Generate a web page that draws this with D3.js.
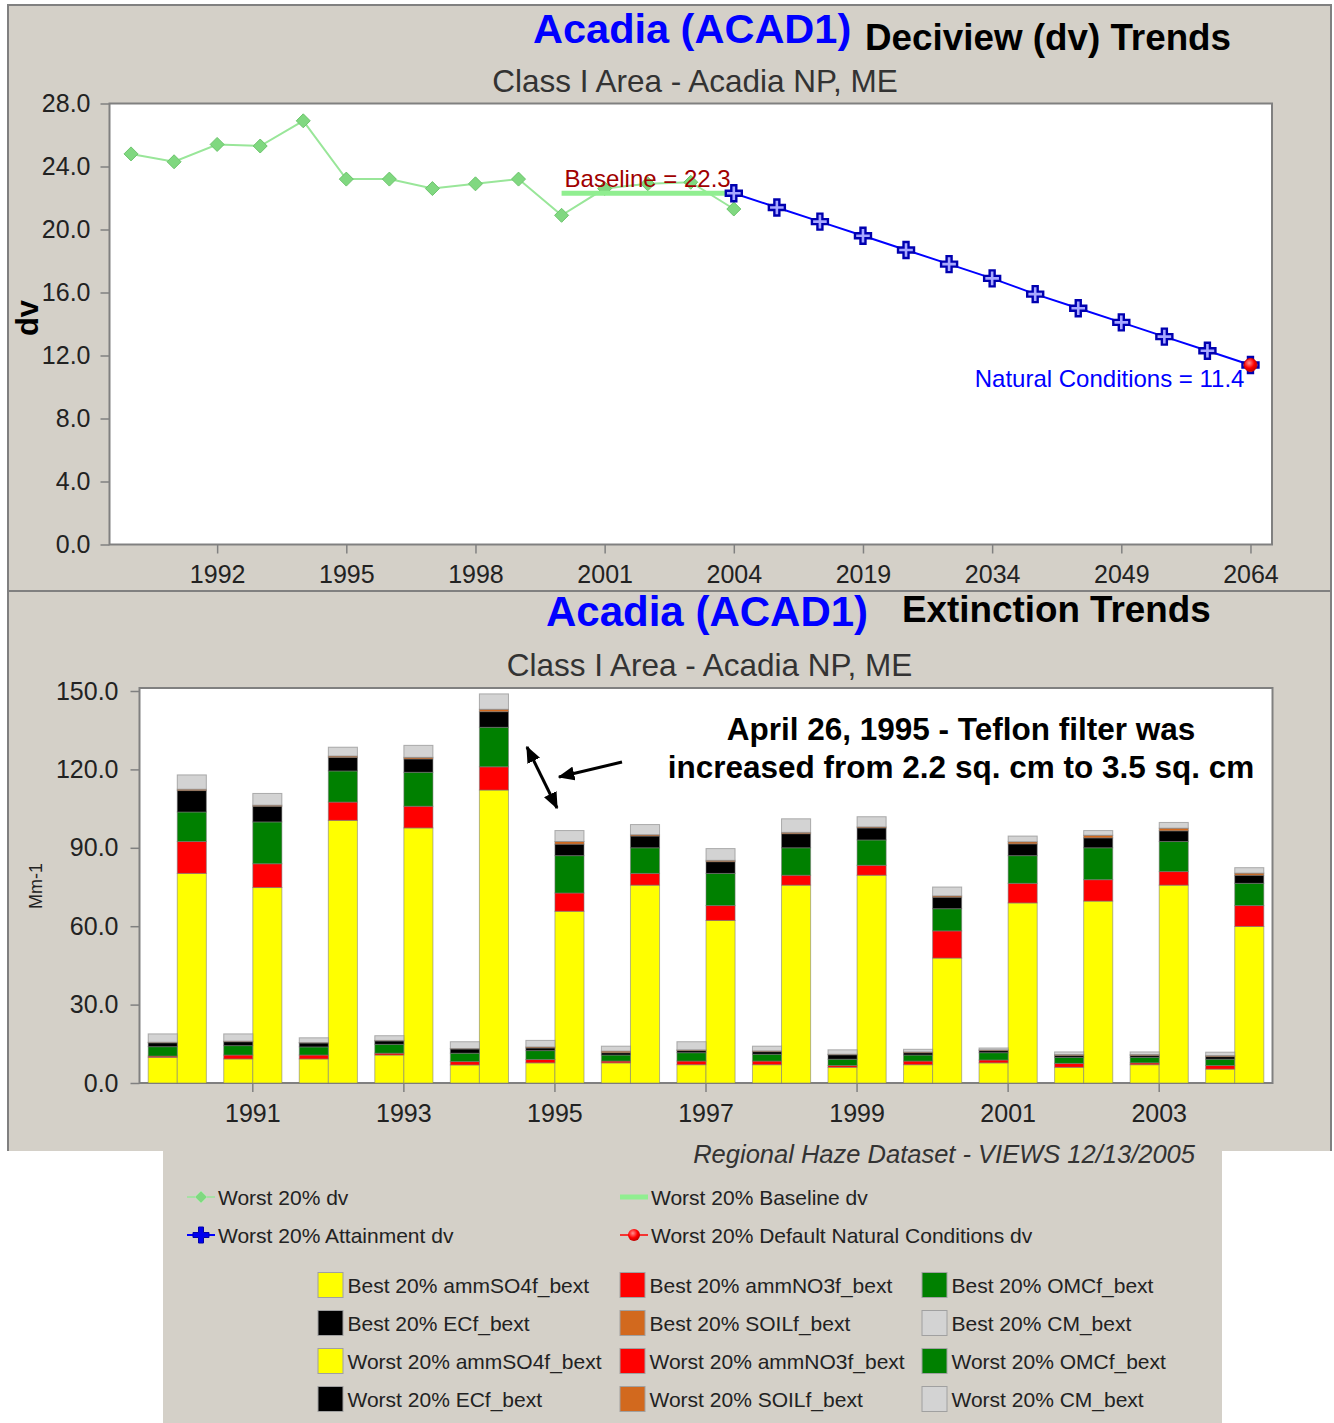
<!DOCTYPE html>
<html>
<head>
<meta charset="utf-8">
<script src="https://cdn.jsdelivr.net/npm/d3@7"></script>
<style>
  body { margin: 0; background: #ffffff; }
  svg { display: block; }
  text { font-family: "Liberation Sans", Arial, sans-serif; }
</style>
</head>
<body>
<svg id="chart" width="1334" height="1423"></svg>
<script>
// ---------- Deciview (dv) trend data ----------
const dvCategories = ["1990","1991","1992","1993","1994","1995","1996","1997","1998","1999",
  "2000","2001","2002","2003","2004","2009","2014","2019","2024","2029","2034","2039",
  "2044","2049","2054","2059","2064"];
const worstDvYears = ["1990","1991","1992","1993","1994","1995","1996","1997","1998","1999",
  "2000","2001","2002","2003","2004"];
const worstDv = [24.8, 24.3, 25.4, 25.3, 26.9, 23.2, 23.2, 22.6, 22.9, 23.2, 20.9, 22.6, 22.9, 23.0, 21.3];
const baselineYears = ["2000", "2004"];
const baselineDv = 22.3;
const attainmentYears = ["2004","2009","2014","2019","2024","2029","2034","2039","2044","2049","2054","2059","2064"];
const attainmentDv = [22.3, 21.4, 20.5, 19.6, 18.7, 17.8, 16.9, 15.9, 15.0, 14.1, 13.2, 12.3, 11.4];
const naturalYear = "2064";
const naturalDv = 11.4;
const dvTickLabels = ["1992","1995","1998","2001","2004","2019","2034","2049","2064"];
const dvAxisValues = [0, 4, 8, 12, 16, 20, 24, 28];

// ---------- Extinction trend data (Mm-1) ----------
const extYears = ["1990","1991","1992","1993","1994","1995","1996","1997","1998","1999",
  "2000","2001","2002","2003","2004"];
const extTickLabels = ["1991","1993","1995","1997","1999","2001","2003"];
const extAxisValues = [0, 30, 60, 90, 120, 150];
const speciesKeys = ["ammSO4f_bext", "ammNO3f_bext", "OMCf_bext", "ECf_bext", "SOILf_bext", "CM_bext"];
const speciesColors = ["#ffff00", "#ff0000", "#008000", "#000000", "#d2691e", "#d3d3d3"];

const bestSO4  = [9.8, 9.2, 9.2, 10.7, 6.9, 7.7, 7.7, 7.0, 7.0, 6.0, 7.0, 7.7, 6.0, 7.0, 5.3];
const bestNO3  = [0.5, 1.5, 1.5, 0.7, 1.3, 1.3, 0.7, 1.4, 1.4, 0.7, 1.4, 1.1, 1.5, 0.7, 1.4];
const bestOMC  = [3.6, 3.6, 3.1, 3.4, 3.2, 3.4, 2.3, 3.2, 2.6, 2.4, 2.3, 2.8, 2.3, 2.1, 2.4];
const bestEC   = [1.5, 1.5, 1.5, 1.3, 1.6, 1.0, 0.9, 0.8, 1.0, 1.7, 0.9, 0.8, 0.7, 0.7, 1.0];
const bestSOIL = [0.2, 0.2, 0.2, 0.2, 0.2, 0.4, 0.6, 0.3, 0.3, 0.2, 0.3, 0.3, 0.4, 0.4, 0.4];
const bestCM   = [3.2, 2.8, 1.8, 1.8, 2.6, 2.5, 1.9, 3.1, 1.8, 1.7, 1.0, 0.7, 1.0, 1.0, 1.3];

const worstSO4  = [80.2, 74.8, 100.5, 97.6, 112.1, 65.7, 75.7, 62.2, 75.7, 79.5, 47.8, 68.9, 69.6, 75.7, 59.9];
const worstNO3  = [12.2, 9.1, 7.0, 8.3, 8.9, 7.0, 4.5, 5.7, 3.8, 3.8, 10.4, 7.5, 8.2, 5.2, 8.0];
const worstOMC  = [11.3, 16.0, 11.9, 13.0, 15.1, 14.3, 9.8, 12.3, 10.5, 9.7, 8.5, 10.6, 12.2, 11.5, 8.5];
const worstEC   = [8.2, 6.0, 5.2, 5.1, 6.0, 4.4, 4.5, 4.5, 5.4, 4.6, 4.4, 4.5, 3.8, 4.1, 3.1];
const worstSOIL = [0.5, 0.4, 0.5, 0.6, 0.9, 1.0, 0.5, 0.5, 0.5, 0.4, 0.5, 0.8, 1.0, 1.0, 0.8];
const worstCM   = [5.5, 4.5, 3.4, 4.6, 5.9, 4.2, 3.9, 4.5, 5.2, 3.9, 3.4, 2.2, 1.8, 2.2, 2.1];

const lineLegendLabels = ["Worst 20% dv", "Worst 20% Baseline dv",
  "Worst 20% Attainment dv", "Worst 20% Default Natural Conditions dv"];

// ---------- helpers ----------
const svg = d3.select("#chart");
const PANEL = "#d4d0c8", FRAME = "#808080", INK = "#222222";

function label(g, x, y, str, size, opts = {}) {
  return g.append("text")
    .attr("x", x).attr("y", y)
    .attr("font-size", size)
    .attr("font-weight", opts.weight || "normal")
    .attr("font-style", opts.style || "normal")
    .attr("fill", opts.fill || INK)
    .attr("text-anchor", opts.anchor || "start")
    .text(str);
}
const plusPath = (a, w) => `M${-w},${-a}H${w}V${-w}H${a}V${w}H${w}V${a}H${-w}V${w}H${-a}V${-w}H${-w}Z`;
const diamondPath = r => `M0,${-r}L${r},0L0,${r}L${-r},0Z`;

// ---------- panels ----------
svg.append("rect").attr("x", 8).attr("y", 5).attr("width", 1323).attr("height", 1146).attr("fill", PANEL);
svg.append("rect").attr("x", 163).attr("y", 1150).attr("width", 1059).attr("height", 273).attr("fill", PANEL);
svg.append("path")
  .attr("d", "M8,1151V5H1331V1151M8,591H1331")
  .attr("fill", "none").attr("stroke", FRAME).attr("stroke-width", 2);

const defs = svg.append("defs");
const grad = defs.append("radialGradient").attr("id", "ncGrad").attr("cx", "40%").attr("cy", "35%").attr("r", "65%");
grad.append("stop").attr("offset", "0%").attr("stop-color", "#ff9090");
grad.append("stop").attr("offset", "60%").attr("stop-color", "#ff0000");
grad.append("stop").attr("offset", "100%").attr("stop-color", "#c00000");
defs.append("marker").attr("id", "arrowHead")
  .attr("viewBox", "0 0 12 10").attr("refX", 11).attr("refY", 5)
  .attr("markerWidth", 5.6).attr("markerHeight", 4.7)
  .attr("orient", "auto-start-reverse").attr("markerUnits", "strokeWidth")
  .append("path").attr("d", "M0,0L12,5L0,10Z").attr("fill", "#000");

function styleAxis(g, size) {
  g.select(".domain").remove();
  g.selectAll(".tick line").attr("stroke", FRAME).attr("stroke-width", 1.5);
  g.selectAll(".tick text").attr("font-size", size).attr("fill", INK)
    .attr("font-family", "'Liberation Sans', Arial, sans-serif");
}

// =====================================================================
// Top chart: Deciview trends
// =====================================================================
const dvG = svg.append("g");
label(dvG, 533, 43, "Acadia (ACAD1)", 41.5, { weight: "bold", fill: "#0000ff" });
label(dvG, 865, 50, "Deciview (dv) Trends", 36.8, { weight: "bold", fill: "#000" });
label(dvG, 695, 92, "Class I Area - Acadia NP, ME", 31.5, { anchor: "middle", fill: "#333" });

const xDv = d3.scalePoint().domain(dvCategories).range([109.5, 1272]).padding(0.5);
const yDv = d3.scaleLinear().domain([0, 28]).range([544.5, 103.5]);

dvG.append("rect").attr("x", 109.5).attr("y", 103.5).attr("width", 1162.5).attr("height", 441)
  .attr("fill", "#fff").attr("stroke", FRAME).attr("stroke-width", 2);

dvG.append("g").attr("transform", "translate(0,544.5)")
  .call(d3.axisBottom(xDv).tickValues(dvTickLabels).tickSize(9).tickPadding(12))
  .call(g => styleAxis(g, 25));
dvG.append("g").attr("transform", "translate(109.5,0)")
  .call(d3.axisLeft(yDv).tickValues(dvAxisValues).tickFormat(d3.format(".1f")).tickSize(9).tickPadding(10))
  .call(g => styleAxis(g, 25));

dvG.append("text").attr("transform", "translate(38,318) rotate(-90)")
  .attr("text-anchor", "middle").attr("font-size", 31).attr("font-weight", "bold")
  .attr("fill", "#000").text("dv");

// worst 20% dv
const dvPts = worstDvYears.map((yr, i) => ({ yr, v: worstDv[i] }));
dvG.append("path").datum(dvPts)
  .attr("d", d3.line().x(d => xDv(d.yr)).y(d => yDv(d.v)))
  .attr("fill", "none").attr("stroke", "#99e699").attr("stroke-width", 2);
dvG.selectAll(".dvpt").data(dvPts).join("path").attr("class", "dvpt")
  .attr("transform", d => `translate(${xDv(d.yr)},${yDv(d.v)})`)
  .attr("d", diamondPath(7)).attr("fill", "#80d880").attr("stroke", "#6cc46c").attr("stroke-width", 1);

// baseline
dvG.append("line")
  .attr("x1", xDv(baselineYears[0])).attr("x2", xDv(baselineYears[1]))
  .attr("y1", yDv(baselineDv)).attr("y2", yDv(baselineDv))
  .attr("stroke", "#90ee90").attr("stroke-width", 5);
label(dvG, xDv(baselineYears[0]) + 3, yDv(baselineDv) - 6, `Baseline = ${baselineDv}`, 24, { fill: "#a00000" });

// attainment glide path
const attPts = attainmentYears.map((yr, i) => ({ yr, v: attainmentDv[i] }));
dvG.append("path").datum(attPts)
  .attr("d", d3.line().x(d => xDv(d.yr)).y(d => yDv(d.v)))
  .attr("fill", "none").attr("stroke", "#0000ff").attr("stroke-width", 2);
dvG.selectAll(".attpt").data(attPts).join("path").attr("class", "attpt")
  .attr("transform", d => `translate(${xDv(d.yr)},${yDv(d.v)})`)
  .attr("d", plusPath(8, 2.5)).attr("fill", "#a8a8ff").attr("stroke", "#0000b0").attr("stroke-width", 2.4);

// natural conditions
dvG.append("circle").attr("cx", xDv(naturalYear)).attr("cy", yDv(naturalDv)).attr("r", 6.5)
  .attr("fill", "url(#ncGrad)").attr("stroke", "#d00000").attr("stroke-width", 1);
label(dvG, xDv(naturalYear) - 6, yDv(naturalDv) + 22, `Natural Conditions = ${naturalDv}`, 24,
  { anchor: "end", fill: "#0000ff" });

// =====================================================================
// Bottom chart: Extinction trends
// =====================================================================
const extG = svg.append("g");
label(extG, 546, 626, "Acadia (ACAD1)", 42, { weight: "bold", fill: "#0000ff" });
label(extG, 902, 622, "Extinction Trends", 36.8, { weight: "bold", fill: "#000" });
label(extG, 709.5, 676, "Class I Area - Acadia NP, ME", 31.5, { anchor: "middle", fill: "#333" });

const xExt = d3.scaleBand().domain(extYears).range([139.5, 1272.5]).paddingInner(0.23).paddingOuter(0.115);
const xGrp = d3.scaleBand().domain(["Best", "Worst"]).range([0, xExt.bandwidth()]);
const yExt = d3.scaleLinear().domain([0, 150]).range([1083, 691]);

extG.append("rect").attr("x", 139.5).attr("y", 688).attr("width", 1133).attr("height", 395)
  .attr("fill", "#fff").attr("stroke", FRAME).attr("stroke-width", 2);

const bestSeries = [bestSO4, bestNO3, bestOMC, bestEC, bestSOIL, bestCM];
const worstSeries = [worstSO4, worstNO3, worstOMC, worstEC, worstSOIL, worstCM];
const rows = [];
extYears.forEach((yr, i) => {
  const b = { year: yr, group: "Best" }, w = { year: yr, group: "Worst" };
  speciesKeys.forEach((k, j) => { b[k] = bestSeries[j][i]; w[k] = worstSeries[j][i]; });
  rows.push(b, w);
});
const stacked = d3.stack().keys(speciesKeys)(rows);

extG.append("g").selectAll("g").data(stacked).join("g")
  .attr("fill", (d, i) => speciesColors[i])
  .selectAll("rect").data(d => d).join("rect")
  .attr("x", d => xExt(d.data.year) + xGrp(d.data.group))
  .attr("width", xGrp.bandwidth())
  .attr("y", d => yExt(d[1]))
  .attr("height", d => yExt(d[0]) - yExt(d[1]))
  .attr("stroke", "rgba(120,120,120,0.55)").attr("stroke-width", 1);

extG.append("g").attr("transform", "translate(0,1083)")
  .call(d3.axisBottom(xExt).tickValues(extTickLabels).tickSize(9).tickPadding(12))
  .call(g => styleAxis(g, 25));
extG.append("g").attr("transform", "translate(139.5,0)")
  .call(d3.axisLeft(yExt).tickValues(extAxisValues).tickFormat(d3.format(".1f")).tickSize(9).tickPadding(12))
  .call(g => styleAxis(g, 25));

extG.append("text").attr("transform", "translate(42,886) rotate(-90)")
  .attr("text-anchor", "middle").attr("font-size", 18).attr("fill", INK).text("Mm-1");

// filter change note
label(extG, 961, 740, "April 26, 1995 - Teflon filter was", 31.5, { weight: "bold", anchor: "middle", fill: "#000" });
label(extG, 961, 778, "increased from 2.2 sq. cm to 3.5 sq. cm", 31.5, { weight: "bold", anchor: "middle", fill: "#000" });
extG.append("line").attr("x1", 527).attr("y1", 747).attr("x2", 557).attr("y2", 808)
  .attr("stroke", "#000").attr("stroke-width", 3)
  .attr("marker-start", "url(#arrowHead)").attr("marker-end", "url(#arrowHead)");
extG.append("line").attr("x1", 622).attr("y1", 762).attr("x2", 559).attr("y2", 777)
  .attr("stroke", "#000").attr("stroke-width", 3)
  .attr("marker-end", "url(#arrowHead)");

label(extG, 1195, 1163, "Regional Haze Dataset - VIEWS 12/13/2005", 25.5, { style: "italic", anchor: "end", fill: "#333" });

// =====================================================================
// Legend
// =====================================================================
const leg = svg.append("g");
const lineCols = [187, 620], lineRows = [1197, 1235];
const lineSym = [
  g => { g.append("line").attr("x1", 0).attr("x2", 28).attr("stroke", "#99e699").attr("stroke-width", 1.5);
         g.append("path").attr("transform", "translate(14,0)").attr("d", diamondPath(6)).attr("fill", "#80d880").attr("stroke", "#a8e8a8"); },
  g => { g.append("line").attr("x1", 0).attr("x2", 28).attr("stroke", "#90ee90").attr("stroke-width", 5); },
  g => { g.append("line").attr("x1", 0).attr("x2", 28).attr("stroke", "#0000ff").attr("stroke-width", 2);
         g.append("path").attr("transform", "translate(14,0)").attr("d", plusPath(8, 2.5)).attr("fill", "#0000ee").attr("stroke", "#0000aa").attr("stroke-width", 1); },
  g => { g.append("line").attr("x1", 0).attr("x2", 28).attr("stroke", "#ff0000").attr("stroke-width", 1.5);
         g.append("circle").attr("cx", 14).attr("r", 6).attr("fill", "url(#ncGrad)"); }
];
lineLegendLabels.forEach((txt, i) => {
  const cx = lineCols[i % 2], cy = lineRows[Math.floor(i / 2)];
  const g = leg.append("g").attr("transform", `translate(${cx},${cy})`);
  lineSym[i](g);
  label(g, 31, 7.5, txt, 21);
});

const sqCols = [318, 620, 922], sqRows = [1285, 1323, 1361, 1399];
const sqItems = [];
["Best", "Worst"].forEach(grp => speciesKeys.forEach((k, j) => sqItems.push({ txt: `${grp} 20% ${k}`, color: speciesColors[j] })));
sqItems.forEach((it, i) => {
  const cx = sqCols[i % 3], cy = sqRows[Math.floor(i / 3)];
  leg.append("rect").attr("x", cx).attr("y", cy - 12.5).attr("width", 25).attr("height", 25)
    .attr("fill", it.color).attr("stroke", "#a0a0a0").attr("stroke-width", 1);
  label(leg, cx + 29.5, cy + 7.5, it.txt, 21);
});
</script>
</body>
</html>
